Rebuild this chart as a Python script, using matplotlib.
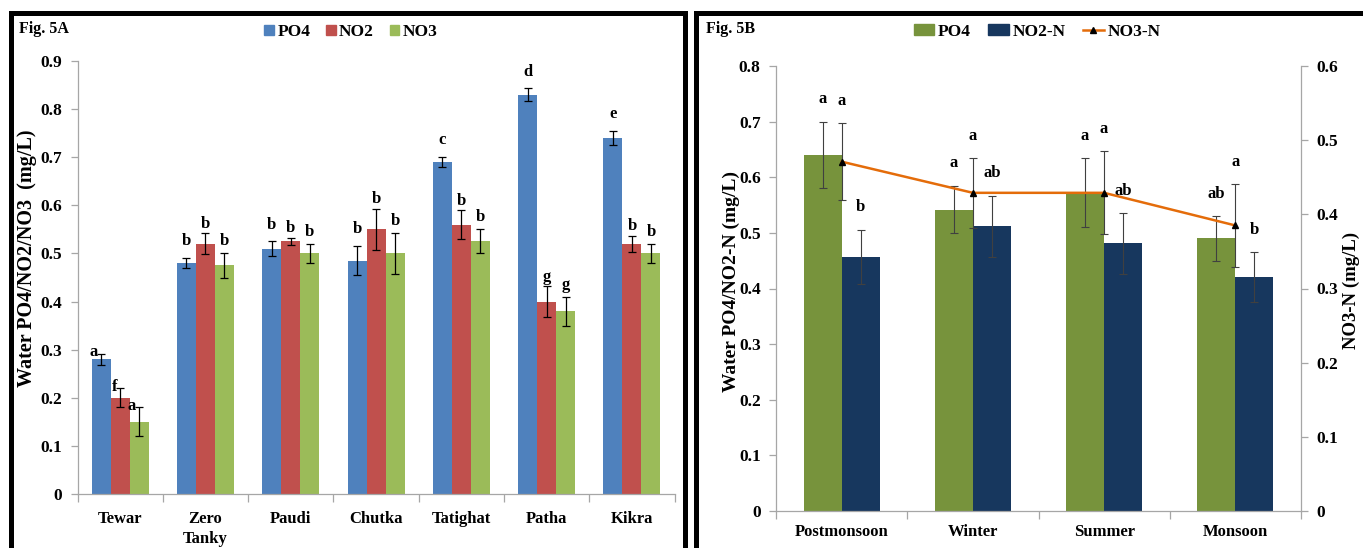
import numpy as np
import matplotlib
matplotlib.use("Agg")
import matplotlib.pyplot as plt
from matplotlib.patches import Rectangle, Patch
from matplotlib.lines import Line2D

# ---------------- data ----------------
sites = ["Tewar", "Zero\nTanky", "Paudi", "Chutka", "Tatighat", "Patha", "Kikra"]
a_po4 = [0.28, 0.48, 0.51, 0.485, 0.69, 0.83, 0.74]
a_no2 = [0.20, 0.52, 0.525, 0.55, 0.56, 0.40, 0.52]
a_no3 = [0.15, 0.475, 0.50, 0.50, 0.525, 0.38, 0.50]
a_po4_err = [0.012, 0.010, 0.015, 0.030, 0.010, 0.013, 0.015]
a_no2_err = [0.020, 0.022, 0.008, 0.043, 0.030, 0.032, 0.017]
a_no3_err = [0.030, 0.025, 0.020, 0.042, 0.025, 0.030, 0.020]
a_po4_let = ["a", "b", "b", "b", "c", "d", "e"]
a_no2_let = ["f", "b", "b", "b", "b", "g", "b"]
a_no3_let = ["a", "b", "b", "b", "b", "g", "b"]

seasons = ["Postmonsoon", "Winter", "Summer", "Monsoon"]
b_po4 = [0.64, 0.542, 0.572, 0.49]
b_no2 = [0.457, 0.512, 0.481, 0.42]
b_no3 = [0.471, 0.429, 0.429, 0.385]
b_po4_err = [0.060, 0.043, 0.062, 0.040]
b_no2_err = [0.049, 0.055, 0.055, 0.045]
b_no3_err = [0.052, 0.047, 0.056, 0.056]
b_po4_let = ["a", "a", "a", "ab"]
b_no2_let = ["b", "ab", "ab", "b"]
b_no3_let = ["a", "a", "a", "a"]

yticks_a = [0, 0.1, 0.2, 0.3, 0.4, 0.5, 0.6, 0.7, 0.8, 0.9]
yticks_b = [0, 0.1, 0.2, 0.3, 0.4, 0.5, 0.6, 0.7, 0.8]
yticks_r = [0, 0.1, 0.2, 0.3, 0.4, 0.5, 0.6]

# ---------------- style ----------------
SERIF = "Liberation Serif"
plt.rcParams["font.family"] = [SERIF, "DejaVu Serif"]
plt.rcParams["font.weight"] = "bold"
GRAY = "#A6A6A6"
W, H = 1363, 548

fig = plt.figure(figsize=(W / 100, H / 100), dpi=100)


def fx(px):
    return px / W


def fy(py):
    return 1 - py / H


def fmt(v):
    return "0" if v == 0 else "%.1f" % v


def style_axis(ax, ncat, xpad):
    for s in ["top", "right"]:
        ax.spines[s].set_visible(False)
    for s in ["left", "bottom"]:
        ax.spines[s].set_color(GRAY)
        ax.spines[s].set_linewidth(0.9)
    ax.set_xlim(-0.5, ncat - 0.5)
    ax.set_xticks(np.arange(ncat))
    ax.set_xticks(np.arange(ncat + 1) - 0.5, minor=True)
    ax.tick_params(axis="x", which="major", length=0, pad=xpad, labelsize=12)
    ax.tick_params(axis="x", which="minor", length=6, color=GRAY, width=0.9, direction="out")
    ax.tick_params(axis="y", length=5, color=GRAY, width=0.9, direction="out", labelsize=12.5, pad=6)
    for lab in ax.get_xticklabels() + ax.get_yticklabels():
        lab.set_fontweight("bold")
        lab.set_family(SERIF)
        lab.set_linespacing(1.35)


# ---------------- Panel A ----------------
axA = fig.add_axes([fx(77.5), fy(494), fx(674.6) - fx(77.5), fy(61) - fy(494)])
xa = np.arange(len(sites))
wa = 0.223
colsA = ["#4F81BD", "#C0504D", "#9BBB59"]
seriesA = [(a_po4, a_po4_err, a_po4_let), (a_no2, a_no2_err, a_no2_let), (a_no3, a_no3_err, a_no3_let)]
padsA = [0.035, 0.02, 0.025]
for k, (vals, errs, lets) in enumerate(seriesA):
    xs = xa + (k - 1) * wa
    axA.bar(xs, vals, width=wa, color=colsA[k], zorder=2)
    axA.errorbar(xs, vals, yerr=errs, fmt="none", ecolor="black", elinewidth=0.9,
                 capsize=3, capthick=0.9, zorder=3)
    for i, (xv, v, e, l) in enumerate(zip(xs, vals, errs, lets)):
        if i == 0:
            axA.text(xv - 0.035, v + e + 0.003, l, ha="right", va="center",
                     fontsize=12, fontweight="bold")
        else:
            axA.text(xv, v + e + padsA[k], l, ha="center", va="center",
                     fontsize=12, fontweight="bold")
axA.set_ylim(0, 0.9)
axA.set_yticks(yticks_a)
axA.set_yticklabels([fmt(v) for v in yticks_a])
axA.set_xticklabels(sites)
style_axis(axA, len(sites), 12)
fig.text(fx(27), fy(258), "Water PO4/NO2/NO3  (mg/L)", rotation=90, ha="center", va="center",
         fontsize=14.5, fontweight="bold")

fig.legend(handles=[Patch(color=c) for c in colsA], labels=["PO4", "NO2", "NO3"],
           loc="center", bbox_to_anchor=(fx(351), fy(32)), ncol=3, frameon=False,
           handlelength=0.55, handleheight=0.55, handletextpad=0.2, columnspacing=0.9,
           prop={"family": SERIF, "weight": "bold", "size": 12.5})

# ---------------- Panel B ----------------
axB = fig.add_axes([fx(776), fy(511), fx(1301) - fx(776), fy(66) - fy(511)])
xb = np.arange(len(seasons))
wb = 0.29
colsB = ["#77933C", "#17375E"]
ORANGE = "#E46C0A"
EC = "#404040"
axB.bar(xb - wb / 2, b_po4, width=wb, color=colsB[0], zorder=2)
axB.bar(xb + wb / 2, b_no2, width=wb, color=colsB[1], zorder=2)
axB.errorbar(xb - wb / 2, b_po4, yerr=b_po4_err, fmt="none", ecolor=EC, elinewidth=0.8,
             capsize=3, capthick=0.8, zorder=3)
axB.errorbar(xb + wb / 2, b_no2, yerr=b_no2_err, fmt="none", ecolor=EC, elinewidth=0.8,
             capsize=3, capthick=0.8, zorder=3)
axB.set_ylim(0, 0.8)
axB.set_yticks(yticks_b)
axB.set_yticklabels([fmt(v) for v in yticks_b])
axB.set_xticklabels(seasons)
style_axis(axB, len(seasons), 9)

axR = axB.twinx()
axR.set_ylim(0, 0.6)
axR.errorbar(xb, b_no3, yerr=b_no3_err, color=ORANGE, lw=1.8, marker="^", ms=4.5,
             mfc="black", mec="black", ecolor=EC, elinewidth=0.8, capsize=3, capthick=0.8, zorder=4)
for s in ["top", "left", "bottom"]:
    axR.spines[s].set_visible(False)
axR.spines["right"].set_color(GRAY)
axR.spines["right"].set_linewidth(0.9)
axR.set_yticks(yticks_r)
axR.set_yticklabels([fmt(v) for v in yticks_r])
axR.tick_params(axis="y", length=5, color=GRAY, width=0.9, direction="out", labelsize=12.5, pad=6)
for lab in axR.get_yticklabels():
    lab.set_fontweight("bold")
    lab.set_family(SERIF)

padB = 0.04
scale = 0.8 / 0.6
for i in range(len(seasons)):
    axB.text(xb[i] - wb / 2, b_po4[i] + b_po4_err[i] + padB, b_po4_let[i], ha="center", va="center",
             fontsize=12, fontweight="bold")
    axB.text(xb[i] + wb / 2, b_no2[i] + b_no2_err[i] + padB, b_no2_let[i], ha="center", va="center",
             fontsize=12, fontweight="bold")
    axB.text(xb[i], (b_no3[i] + b_no3_err[i]) * scale + padB, b_no3_let[i], ha="center", va="center",
             fontsize=12, fontweight="bold", zorder=5)

fig.text(fx(731), fy(282), "Water PO4/NO2-N (mg/L)", rotation=90, ha="center", va="center",
         fontsize=14, fontweight="bold")
fig.text(fx(1351), fy(290), "NO3-N (mg/L)", rotation=90, ha="center", va="center",
         fontsize=13.5, fontweight="bold")

fig.legend(handles=[Patch(color=colsB[0]), Patch(color=colsB[1]),
                    Line2D([], [], color=ORANGE, lw=1.8, marker="^", ms=4.5,
                           mfc="black", mec="black")],
           labels=["PO4", "NO2-N", "NO3-N"],
           loc="center", bbox_to_anchor=(fx(1037), fy(32)), ncol=3, frameon=False,
           handlelength=1.2, handleheight=0.6, handletextpad=0.2, columnspacing=1.0,
           prop={"family": SERIF, "weight": "bold", "size": 12.5})

# ---------------- panel labels and frames ----------------
fig.text(fx(19), fy(29), "Fig. 5A", ha="left", va="center", fontsize=11.5, fontweight="bold")
fig.text(fx(706), fy(29), "Fig. 5B", ha="left", va="center", fontsize=11.5, fontweight="bold")

lw_frame = 3.6
fig.add_artist(Rectangle((fx(10.5), -0.1), fx(685.5) - fx(10.5), fy(13.5) + 0.1,
                         transform=fig.transFigure, fill=False, edgecolor="black",
                         linewidth=lw_frame, clip_on=False))
fig.add_artist(Rectangle((fx(695.5), -0.1), fx(1400) - fx(695.5), fy(13.5) + 0.1,
                         transform=fig.transFigure, fill=False, edgecolor="black",
                         linewidth=lw_frame, clip_on=False))

fig.savefig("out.png", dpi=100)
